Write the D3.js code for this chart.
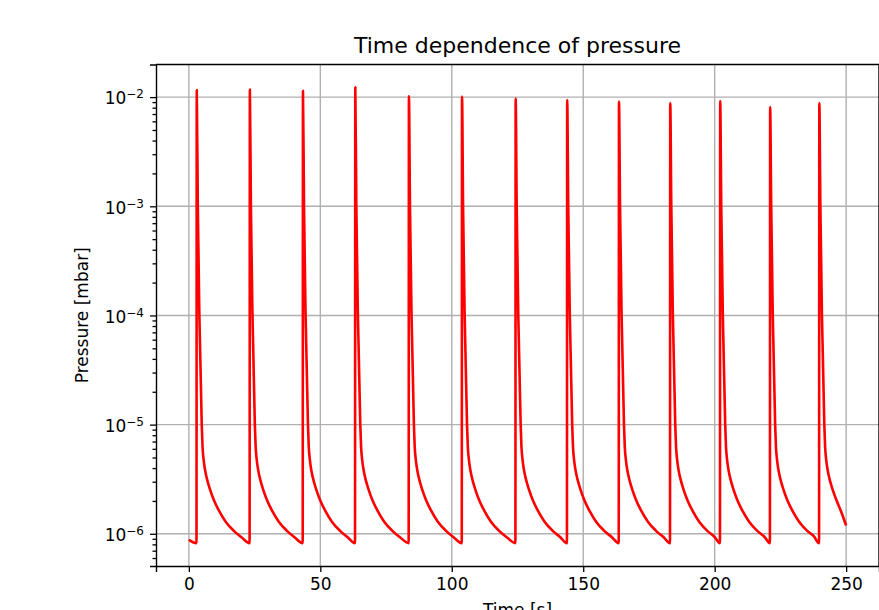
<!DOCTYPE html>
<html>
<head>
<meta charset="utf-8">
<script src="https://cdn.jsdelivr.net/npm/d3@7"></script>
<style>
  body { margin: 0; background: #fff; }
  text { font-family: "DejaVu Sans", sans-serif; fill: #000; }
</style>
</head>
<body>
<script>
// measured pressure trace, one row per pump-out cycle
var time = [
  0, 2.9,
  3.0, 3.4, 4.0, 4.9, 5.2, 5.6, 6.2, 7.0, 8.0, 9.5, 11.5, 14.0, 17.0, 20.0, 23.1,
  23.2, 23.6, 24.2, 25.1, 25.4, 25.8, 26.4, 27.2, 28.2, 29.7, 31.7, 34.2, 37.2, 40.2, 43.3,
  43.4, 43.8, 44.4, 45.3, 45.6, 46.0, 46.6, 47.4, 48.4, 49.9, 51.9, 54.4, 57.4, 60.4, 63.2,
  63.3, 63.7, 64.3, 65.2, 65.5, 65.9, 66.5, 67.3, 68.3, 69.8, 71.8, 74.3, 77.3, 80.3, 83.6,
  83.7, 84.1, 84.7, 85.6, 85.9, 86.3, 86.9, 87.7, 88.7, 90.2, 92.2, 94.7, 97.7, 100.7, 103.8,
  103.9, 104.3, 104.9, 105.8, 106.1, 106.5, 107.1, 107.9, 108.9, 110.4, 112.4, 114.9, 117.9, 120.9, 124.2,
  124.3, 124.7, 125.3, 126.2, 126.5, 126.9, 127.5, 128.3, 129.3, 130.8, 132.8, 135.3, 138.3, 141.3, 143.8,
  143.9, 144.3, 144.9, 145.8, 146.1, 146.5, 147.1, 147.9, 148.9, 150.4, 152.4, 154.9, 157.9, 160.9, 163.5,
  163.6, 164.0, 164.6, 165.5, 165.8, 166.2, 166.8, 167.6, 168.6, 170.1, 172.1, 174.6, 177.6, 180.6, 183.0,
  183.1, 183.5, 184.1, 185.0, 185.3, 185.7, 186.3, 187.1, 188.1, 189.6, 191.6, 194.1, 197.1, 199.9, 202.0,
  202.1, 202.5, 203.1, 204.0, 204.3, 204.7, 205.3, 206.1, 207.1, 208.6, 210.6, 213.1, 216.1, 218.9, 221.0,
  221.1, 221.5, 222.1, 223.0, 223.3, 223.7, 224.3, 225.1, 226.1, 227.6, 229.6, 232.1, 235.1, 237.7, 239.7,
  239.8, 240.2, 240.8, 241.7, 242.0, 242.4, 243.0, 243.8, 244.8, 246.3, 248.3, 250.0
];
var pressure = [
  8.8e-7, 8.2e-7,
  1.16e-2, 1e-3, 1e-4, 1e-5, 6.3e-6, 4.8e-6, 3.8e-6, 3.1e-6, 2.57e-6, 2.04e-6, 1.62e-6, 1.29e-6, 1.07e-6, 9.3e-7, 8.2e-7,
  1.17e-2, 1e-3, 1e-4, 1e-5, 6.3e-6, 4.8e-6, 3.8e-6, 3.1e-6, 2.57e-6, 2.04e-6, 1.62e-6, 1.29e-6, 1.07e-6, 9.3e-7, 8.2e-7,
  1.14e-2, 1e-3, 1e-4, 1e-5, 6.3e-6, 4.8e-6, 3.8e-6, 3.1e-6, 2.57e-6, 2.04e-6, 1.62e-6, 1.29e-6, 1.07e-6, 9.3e-7, 8.2e-7,
  1.23e-2, 1e-3, 1e-4, 1e-5, 6.3e-6, 4.8e-6, 3.8e-6, 3.1e-6, 2.57e-6, 2.04e-6, 1.62e-6, 1.29e-6, 1.07e-6, 9.3e-7, 8.2e-7,
  1.02e-2, 1e-3, 1e-4, 1e-5, 6.3e-6, 4.8e-6, 3.8e-6, 3.1e-6, 2.57e-6, 2.04e-6, 1.62e-6, 1.29e-6, 1.07e-6, 9.3e-7, 8.2e-7,
  1.01e-2, 1e-3, 1e-4, 1e-5, 6.3e-6, 4.8e-6, 3.8e-6, 3.1e-6, 2.57e-6, 2.04e-6, 1.62e-6, 1.29e-6, 1.07e-6, 9.3e-7, 8.2e-7,
  9.7e-3, 1e-3, 1e-4, 1e-5, 6.3e-6, 4.8e-6, 3.8e-6, 3.1e-6, 2.57e-6, 2.04e-6, 1.62e-6, 1.29e-6, 1.07e-6, 9.3e-7, 8.2e-7,
  9.4e-3, 1e-3, 1e-4, 1e-5, 6.3e-6, 4.8e-6, 3.8e-6, 3.1e-6, 2.57e-6, 2.04e-6, 1.62e-6, 1.29e-6, 1.07e-6, 9.3e-7, 8.2e-7,
  9.1e-3, 1e-3, 1e-4, 1e-5, 6.3e-6, 4.8e-6, 3.8e-6, 3.1e-6, 2.57e-6, 2.04e-6, 1.62e-6, 1.29e-6, 1.07e-6, 9.3e-7, 8.2e-7,
  8.8e-3, 1e-3, 1e-4, 1e-5, 6.3e-6, 4.8e-6, 3.8e-6, 3.1e-6, 2.57e-6, 2.04e-6, 1.62e-6, 1.29e-6, 1.07e-6, 9.4e-7, 8.2e-7,
  9.2e-3, 1e-3, 1e-4, 1e-5, 6.3e-6, 4.8e-6, 3.8e-6, 3.1e-6, 2.57e-6, 2.04e-6, 1.62e-6, 1.29e-6, 1.07e-6, 9.4e-7, 8.2e-7,
  8.1e-3, 1e-3, 1e-4, 1e-5, 6.3e-6, 4.8e-6, 3.8e-6, 3.1e-6, 2.57e-6, 2.04e-6, 1.62e-6, 1.29e-6, 1.07e-6, 9.5e-7, 8.2e-7,
  8.8e-3, 1e-3, 1e-4, 1e-5, 6.3e-6, 4.8e-6, 3.8e-6, 3.1e-6, 2.57e-6, 2.04e-6, 1.55e-6, 1.19e-6
];
var xTicks = [0, 50, 100, 150, 200, 250];
var yExponents = [-6, -5, -4, -3, -2];
var titleText = "Time dependence of pressure";
var xLabel = "Time [s]";
var yLabel = "Pressure [mbar]";

var W = 879, H = 610;
var plotLeft = 156, plotTop = 64.5, plotRight = 879, plotBottom = 566;

var svg = d3.select("body").append("svg")
    .attr("width", W).attr("height", H);

var data = time.map(function (t, i) { return {t: t, p: pressure[i]}; });

// matplotlib-like 5% margins (log space for y)
var tExt = d3.extent(time);
var tPad = (tExt[1] - tExt[0]) * 0.05;
var lExt = d3.extent(pressure).map(Math.log10);
var lPad = (lExt[1] - lExt[0]) * 0.05;

var x = d3.scaleLinear()
    .domain([tExt[0] - tPad, tExt[1] + tPad])
    .range([plotLeft, plotRight]);
var y = d3.scaleLog()
    .domain([Math.pow(10, lExt[0] - lPad), Math.pow(10, lExt[1] + lPad)])
    .range([plotBottom, plotTop]);

//grid
var grid = svg.append("g");
grid.selectAll(".gx").data(xTicks).enter().append("line")
    .attr("x1", function (d) {return x(d);}).attr("x2", function (d) {return x(d);})
    .attr("y1", plotTop).attr("y2", plotBottom)
    .attr("stroke", "#b0b0b0").attr("stroke-width", 1.4);
grid.selectAll(".gy").data(yExponents).enter().append("line")
    .attr("x1", plotLeft).attr("x2", plotRight)
    .attr("y1", function (d) {return y(Math.pow(10, d));})
    .attr("y2", function (d) {return y(Math.pow(10, d));})
    .attr("stroke", "#b0b0b0").attr("stroke-width", 1.4);

svg.append("clipPath").attr("id", "clip")
    .append("rect").attr("x", plotLeft).attr("y", plotTop)
    .attr("width", plotRight - plotLeft).attr("height", plotBottom - plotTop);

var line = d3.line()
    .x(function (d) {return x(d.t);})
    .y(function (d) {return y(d.p);})
    .curve(d3.curveMonotoneX);

svg.append("path")
    .datum(data)
    .attr("clip-path", "url(#clip)")
    .attr("d", line)
    .attr("fill", "none")
    .attr("stroke", "#ff0000")
    .attr("stroke-width", 2.6)
    .attr("stroke-linejoin", "round");

// minor log ticks
var minor = [];
var dom = y.domain();
for (var e = -7; e <= -1; e++) {
    for (var m = 2; m <= 9; m++) {
        var v = m * Math.pow(10, e);
        if (v >= dom[0] && v <= dom[1]) minor.push(v);
    }
}
svg.append("g")
    .attr("transform", "translate(" + plotLeft + ",0)")
    .call(d3.axisLeft(y).tickValues(minor).tickSize(3.5).tickFormat(""))
    .call(function (g) {
        g.select(".domain").remove();
        g.selectAll("line").attr("stroke-width", 1.1);
    });

var yAxis = svg.append("g")
    .attr("transform", "translate(" + plotLeft + ",0)")
    .call(d3.axisLeft(y)
        .tickValues(yExponents.map(function (d) {return Math.pow(10, d);}))
        .tickSize(6).tickPadding(6).tickFormat(""));
yAxis.selectAll(".tick text")
    .attr("font-size", 17)
    .each(function (d) {
        var t = d3.select(this);
        t.append("tspan").text("10");
        t.append("tspan").attr("dy", "-0.5em").attr("font-size", "12px")
            .text("\u2212" + Math.abs(Math.round(Math.log10(d))));
    });
yAxis.selectAll(".tick text").attr("dy", "0.4em");

var xAxis = svg.append("g")
    .attr("transform", "translate(0," + plotBottom + ")")
    .call(d3.axisBottom(x).tickValues(xTicks).tickSize(6).tickPadding(6));
xAxis.selectAll(".tick text").attr("font-size", 17);

svg.selectAll(".domain").attr("stroke-width", 1.4);
svg.selectAll(".tick line").attr("stroke-width", 1.3);

// frame top / right
svg.append("line").attr("x1", plotLeft).attr("x2", plotRight).attr("y1", plotTop).attr("y2", plotTop)
    .attr("stroke", "#000").attr("stroke-width", 1.4);
svg.append("line").attr("x1", plotRight).attr("x2", plotRight).attr("y1", plotTop).attr("y2", plotBottom)
    .attr("stroke", "#000").attr("stroke-width", 1.4);

svg.append("text")
    .attr("x", (plotLeft + plotRight) / 2).attr("y", 53)
    .attr("text-anchor", "middle").attr("font-size", 22)
    .text(titleText);

svg.append("text")
    .attr("x", (plotLeft + plotRight) / 2).attr("y", 616)
    .attr("text-anchor", "middle").attr("font-size", 17)
    .text(xLabel);

svg.append("text")
    .attr("transform", "translate(88," + (plotTop + plotBottom) / 2 + ") rotate(-90)")
    .attr("text-anchor", "middle").attr("font-size", 17)
    .text(yLabel);
</script>
</body>
</html>
